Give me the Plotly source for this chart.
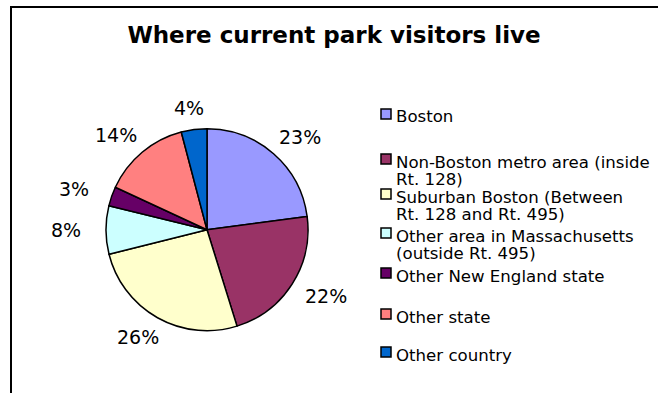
import math
import plotly.graph_objects as go

# ---- data ----
categories = [
    "Boston",
    "Non-Boston metro area (inside Rt. 128)",
    "Suburban Boston (Between Rt. 128 and Rt. 495)",
    "Other area in Massachusetts (outside Rt. 495)",
    "Other New England state",
    "Other state",
    "Other country",
]
legend_lines = [
    ["Boston"],
    ["Non-Boston metro area (inside", "Rt. 128)"],
    ["Suburban Boston (Between", "Rt. 128 and Rt. 495)"],
    ["Other area in Massachusetts", "(outside Rt. 495)"],
    ["Other New England state"],
    ["Other state"],
    ["Other country"],
]
values = [22.9, 22.3, 25.9, 7.7, 3.1, 14.0, 4.1]
colors = ["#9999FF", "#993366", "#FFFFCC", "#CCFFFF", "#660066", "#FF8080", "#0066CC"]
title = "Where current park visitors live"

# ---- layout constants ----
W, H = 658, 393
FONT = "DejaVu Sans"
cx, cy, r = 207, 229.7, 101
label_gap_x, label_gap_y = 40, 22
legend_first_line_y = [117, 162, 197, 236, 276, 317, 355]
line_gap = 17
box_x0, box_x1 = 381, 391
text_x = 394


def px_x(x):
    return x / W


def px_y(y):
    return 1 - y / H


fig = go.Figure()
fig.add_trace(go.Pie(
    labels=categories,
    values=values,
    sort=False,
    direction="clockwise",
    rotation=0,
    marker=dict(colors=colors, line=dict(color="black", width=1.5)),
    textinfo="none",
    showlegend=False,
    hoverinfo="label+percent",
    domain=dict(x=[px_x(cx - r), px_x(cx + r)], y=[px_y(cy + r), px_y(cy - r)]),
))

shapes = [
    dict(type="rect", xref="paper", yref="paper",
         x0=px_x(11), x1=px_x(W + 10), y0=px_y(7), y1=px_y(H + 10),
         line=dict(color="black", width=2), fillcolor="rgba(0,0,0,0)")
]
annotations = []

# percentage labels outside each slice, placed from the slice mid-angles
total = sum(values)
cum = 0.0
for v in values:
    mid = (cum + v / 2) / total * 2 * math.pi  # clockwise from 12 o'clock
    cum += v
    lx = cx + (r + label_gap_x) * math.sin(mid)
    ly = cy - (r + label_gap_y) * math.cos(mid)
    annotations.append(dict(
        xref="paper", yref="paper", x=px_x(lx), y=px_y(ly),
        xanchor="center", yanchor="middle", showarrow=False,
        text=f"{round(v / total * 100)}%",
        font=dict(family=FONT, size=19, color="black"),
    ))

for i, lines in enumerate(legend_lines):
    y0 = legend_first_line_y[i]
    bc = y0 - 3
    shapes.append(dict(type="rect", xref="paper", yref="paper",
                       x0=px_x(box_x0), x1=px_x(box_x1),
                       y0=px_y(bc + 5), y1=px_y(bc - 5),
                       fillcolor=colors[i], line=dict(color="black", width=1.5)))
    for j, t in enumerate(lines):
        annotations.append(dict(
            xref="paper", yref="paper", x=px_x(text_x), y=px_y(y0 + j * line_gap),
            xanchor="left", yanchor="middle", text=t, showarrow=False,
            font=dict(family=FONT, size=16.6, color="black"),
        ))

fig.update_layout(
    width=W, height=H,
    margin=dict(l=0, r=0, t=0, b=0),
    paper_bgcolor="white", plot_bgcolor="white",
    title=dict(text="<b>" + title + "</b>", x=px_x(334), y=px_y(34.5),
               xanchor="center", yanchor="middle",
               font=dict(family=FONT, size=23, color="black")),
    shapes=shapes,
    annotations=annotations,
)

fig.write_html("out.html")
